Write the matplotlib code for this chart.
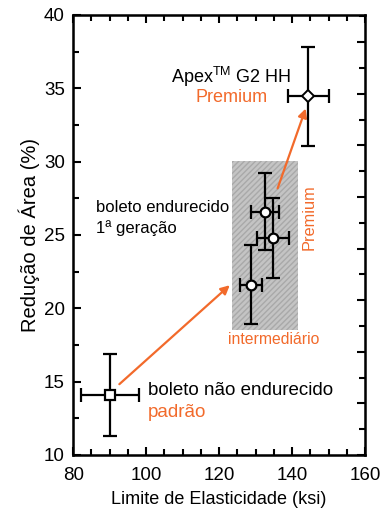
import matplotlib.pyplot as plt
from matplotlib.patches import Rectangle

plt.rcParams['font.family'] = ['Liberation Sans', 'DejaVu Sans']
plt.rcParams['mathtext.fontset'] = 'custom'
plt.rcParams['mathtext.rm'] = 'Liberation Sans'

# dados
pontos_x = [90.1, 132.6, 134.9, 128.8]
pontos_y = [14.1, 26.6, 24.8, 21.6]
erro_x = [8.0, 3.9, 4.4, 3.1]
erro_y = [2.8, 2.6, 2.7, 2.7]
apex_x, apex_y = 144.5, 34.45
apex_ex, apex_ey = 5.6, 3.4

laranja = '#f26a2b'

fig = plt.figure(figsize=(3.85, 5.17), dpi=100)
ax = fig.add_axes([0.19, 0.12, 0.758, 0.851])

# faixa cinza (intermediario)
ax.add_patch(Rectangle((123.6, 18.5), 18.0, 11.55, facecolor='#c4c4c4',
                       edgecolor='#a9a9a9', hatch='//////', linewidth=0, zorder=1))

kw = dict(fmt='none', ecolor='black', elinewidth=1.6, capsize=5, capthick=1.6, zorder=3)
ax.errorbar(pontos_x[0], pontos_y[0], xerr=erro_x[0], yerr=erro_y[0], **kw)
ax.errorbar(pontos_x[1:], pontos_y[1:], xerr=erro_x[1:], yerr=erro_y[1:], **kw)
ax.errorbar(apex_x, apex_y, xerr=apex_ex, yerr=apex_ey, **kw)

ax.plot(pontos_x[0], pontos_y[0], 's', ms=6.5, mfc='white', mec='black', mew=1.6, zorder=4)
ax.plot(pontos_x[1:], pontos_y[1:], 'o', ms=7, mfc='white', mec='black', mew=1.6, zorder=4)
ax.plot(apex_x, apex_y, 'D', ms=6.5, mfc='white', mec='black', mew=1.4, zorder=4)

# setas
ax.annotate('', xy=(123.5, 21.7), xytext=(92.1, 14.7),
            arrowprops=dict(arrowstyle='-|>', color=laranja, lw=1.6, mutation_scale=13), zorder=2)
ax.annotate('', xy=(144.0, 33.8), xytext=(135.8, 28.0),
            arrowprops=dict(arrowstyle='-|>', color=laranja, lw=1.6, mutation_scale=13), zorder=2)

# textos
ax.text(123.3, 35.8, 'Apex$^{\\mathrm{TM}}$ G2 HH', ha='center', va='center', fontsize=13)
ax.text(123.3, 34.4, 'Premium', ha='center', va='center', fontsize=13, color=laranja)
ax.text(86.4, 26.85, 'boleto endurecido', ha='left', va='center', fontsize=12)
ax.text(86.4, 25.5, '1ª geração', ha='left', va='center', fontsize=12)
ax.text(144.6, 26.2, 'Premium', ha='center', va='center', fontsize=11.8, color=laranja, rotation=90)
ax.text(134.9, 17.85, 'intermediário', ha='center', va='center', fontsize=11.3, color=laranja)
ax.text(100.5, 14.4, 'boleto não endurecido', ha='left', va='center', fontsize=13.5)
ax.text(100.5, 12.9, 'padrão', ha='left', va='center', fontsize=13.5, color=laranja)

ax.set_xlim(80, 160)
ax.set_ylim(10, 40)
ax.set_xticks([80, 100, 120, 140, 160])
ax.set_xticks(range(80, 161, 5), minor=True)
ax.set_yticks([10, 15, 20, 25, 30, 35, 40])
ax.set_yticks([12.5, 17.5, 22.5, 27.5, 32.5, 37.5], minor=True)
ax.tick_params(which='both', direction='in', width=1.5, labelsize=13.5, top=True)
ax.tick_params(which='major', length=6)
ax.tick_params(which='minor', length=4)
ax.tick_params(axis='x', pad=9)
ax.tick_params(axis='y', right=False, pad=6)
for s in ax.spines.values():
    s.set_linewidth(1.8)

# eixo direito sem rotulos
ax2 = ax.twinx()
ax2.set_ylim(0, 17.05)
ax2.set_yticks(range(0, 18, 2))
ax2.set_yticks(range(1, 18, 2), minor=True)
ax2.tick_params(which='both', direction='in', width=1.5, labelright=False)
ax2.tick_params(which='major', length=6)
ax2.tick_params(which='minor', length=4)

ax.set_xlabel('Limite de Elasticidade (ksi)', fontsize=13, labelpad=5)
ax.set_ylabel('Redução de Área (%)', fontsize=14.5, labelpad=3)

fig.savefig('out.png', dpi=100)
